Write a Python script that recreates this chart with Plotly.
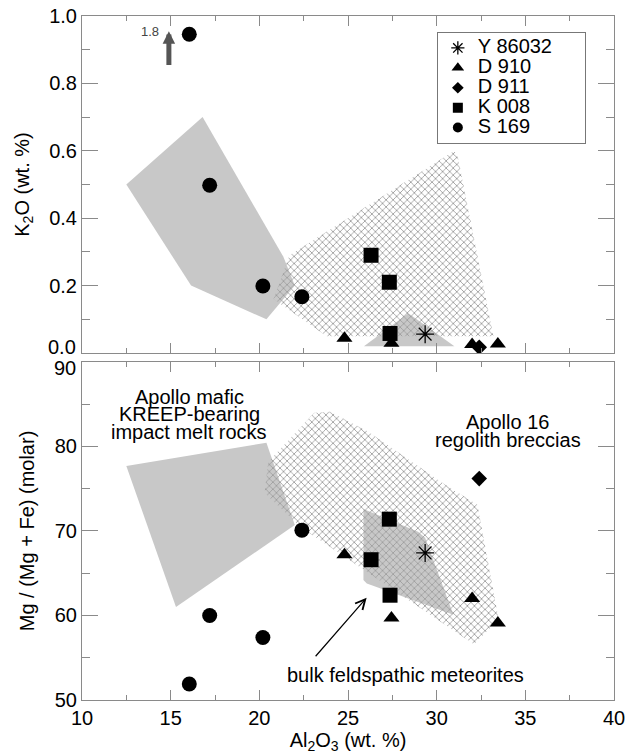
import plotly.graph_objects as go

# ---------------- data ----------------
# Y 86032 (asterisk)
y86032_al2o3 = [29.35]
y86032_k2o = [0.056]
y86032_mg = [67.4]

# D 910 (triangles)
d910_al2o3 = [24.8, 27.45, 32.0, 33.45]
d910_k2o = [0.044, 0.029, 0.025, 0.027]
d910_mg = [67.2, 59.7, 62.0, 59.1]

# D 911 (diamond)
d911_al2o3 = [32.4]
d911_k2o = [0.017]
d911_mg = [76.2]

# K 008 (squares)
k008_al2o3 = [26.3, 27.33, 27.37]
k008_k2o = [0.29, 0.21, 0.058]
k008_mg = [66.6, 71.4, 62.4]

# S 169 (circles); first K2O point is plotted off-scale (true value 1.8)
s169_al2o3 = [16.05, 17.2, 20.2, 22.4]
s169_k2o = [0.946, 0.498, 0.199, 0.167]
s169_mg = [51.9, 60.0, 57.4, 70.1]

# Reference fields, K2O vs Al2O3
kreep_k2o_x = [12.5, 16.8, 21.35, 22.0, 20.4, 16.15]
kreep_k2o_y = [0.50, 0.70, 0.286, 0.20, 0.10, 0.20]
regolith_k2o_x = [20.8, 21.7, 31.0, 31.2, 33.2, 23.8]
regolith_k2o_y = [0.16, 0.29, 0.60, 0.58, 0.05, 0.05]
feld_k2o_x = [25.9, 28.4, 31.0]
feld_k2o_y = [0.02, 0.118, 0.02]

# Reference fields, Mg# vs Al2O3
kreep_mg_x = [12.5, 20.4, 22.0, 15.3]
kreep_mg_y = [77.7, 80.45, 70.7, 61.0]
regolith_mg_x = [20.3, 20.5, 23.1, 24.0, 26.1, 30.4, 32.3, 33.5, 32.1, 22.3]
regolith_mg_y = [74.5, 78.2, 84.0, 84.1, 81.8, 75.6, 73.1, 59.5, 56.6, 70.5]
feld_mg_x = [25.87, 28.95, 29.35, 30.94, 26.06, 25.87]
feld_mg_y = [72.6, 69.9, 69.2, 60.1, 63.8, 64.2]

x_range = [10, 40]
k2o_range = [0, 1.0]
mg_range = [50, 90]
k2o_tickvals = [0.2, 0.4, 0.6, 0.8, 1.0]
mg_tickvals = [50, 60, 70, 80]

FONT = "Liberation Sans, Arial, Helvetica, sans-serif"
GRAY = "#c8c8c8"
AXC = "#8a8a8a"

fig = go.Figure()

def solid(xs, ys, xa, ya):
    fig.add_trace(go.Scatter(x=xs, y=ys, xaxis=xa, yaxis=ya, mode="lines",
                             fill="toself", fillcolor=GRAY, line=dict(width=0),
                             hoverinfo="skip", showlegend=False))

def hatch(xs, ys, xa, ya):
    fig.add_trace(go.Scatter(x=xs, y=ys, xaxis=xa, yaxis=ya, mode="lines",
                             fill="toself", fillcolor="rgba(0,0,0,0)",
                             fillpattern=dict(shape="x", fgcolor="#a0a0a0",
                                              bgcolor="rgba(0,0,0,0)", size=5,
                                              solidity=0.32, fillmode="replace"),
                             line=dict(width=0), hoverinfo="skip", showlegend=False))

solid(kreep_k2o_x, kreep_k2o_y, "x", "y")
solid(feld_k2o_x, feld_k2o_y, "x", "y")
hatch(regolith_k2o_x, regolith_k2o_y, "x", "y")
solid(kreep_mg_x, kreep_mg_y, "x2", "y2")
solid(feld_mg_x, feld_mg_y, "x2", "y2")
hatch(regolith_mg_x, regolith_mg_y, "x2", "y2")

series = [
    ("Y 86032", y86032_al2o3, y86032_k2o, y86032_mg, "asterisk-open", 15),
    ("D 910", d910_al2o3, d910_k2o, d910_mg, "triangle-up", 14),
    ("D 911", d911_al2o3, d911_k2o, d911_mg, "diamond", 12),
    ("K 008", k008_al2o3, k008_k2o, k008_mg, "square", 15),
    ("S 169", s169_al2o3, s169_k2o, s169_mg, "circle", 15),
]
legend_sizes = {"asterisk-open": 11, "triangle-up": 11, "diamond": 9,
                "square": 10, "circle": 10}

for name, al, k, mg, sym, sz in series:
    mk = dict(symbol=sym, size=sz, color="black",
              line=dict(width=1.3 if sym == "asterisk-open" else 0, color="black"))
    fig.add_trace(go.Scatter(x=al, y=k, xaxis="x", yaxis="y", mode="markers",
                             marker=mk, name=name, showlegend=False))
    fig.add_trace(go.Scatter(x=al, y=mg, xaxis="x2", yaxis="y2", mode="markers",
                             marker=mk, name=name, showlegend=False))
    lmk = dict(mk)
    lmk["size"] = legend_sizes[sym]
    fig.add_trace(go.Scatter(x=[None], y=[None], xaxis="x", yaxis="y", mode="markers",
                             marker=lmk,
                             name="<span style='font-size:20px'>" + name
                                  + "\u00a0" * 5 + "</span>",
                             showlegend=True))

common = dict(showline=True, linecolor=AXC, linewidth=1, mirror="allticks",
              ticks="inside", tickcolor=AXC, showgrid=False, zeroline=False,
              automargin=False, ticklabeloverflow="allow",
              tickfont=dict(family=FONT, size=20, color="black"))

fig.update_layout(
    width=628, height=756,
    margin=dict(l=82, r=14, t=16, b=56, autoexpand=False),
    paper_bgcolor="white", plot_bgcolor="white",
    font=dict(family=FONT, size=20, color="black"),
    showlegend=True,
    legend=dict(x=0.667, y=0.9766, xanchor="left", yanchor="top",
                bordercolor="#777", borderwidth=1, bgcolor="white",
                font=dict(family=FONT, size=13, color="black"),
                itemwidth=30, tracegroupgap=0),
    xaxis=dict(domain=[0, 1], anchor="y", range=x_range, tick0=10, dtick=5,
               ticklen=10, showticklabels=False,
               minor=dict(dtick=2.5, ticklen=5, tickcolor=AXC, ticks="inside"),
               **common),
    yaxis=dict(domain=[0.5073, 1.0], anchor="x", range=k2o_range,
               tickmode="array", tickvals=k2o_tickvals, tickformat=".1f",
               ticklen=16,
               minor=dict(tickmode="linear", tick0=0, dtick=0.1, ticklen=8,
                          tickcolor=AXC, ticks="inside"),
               title=dict(text="K<sub>2</sub>O (wt. %)", standoff=14,
                          font=dict(family=FONT, size=20)),
               **common),
    xaxis2=dict(domain=[0, 1], anchor="y2", range=x_range, tick0=10, dtick=5,
                ticklen=10,
                minor=dict(dtick=2.5, ticklen=5, tickcolor=AXC, ticks="inside"),
                title=dict(text="Al<sub>2</sub>O<sub>3</sub> (wt. %)", standoff=4,
                           font=dict(family=FONT, size=20)),
                **common),
    yaxis2=dict(domain=[0, 0.4942], anchor="x2", range=mg_range,
                tickmode="array", tickvals=mg_tickvals, ticklen=16,
                minor=dict(tickmode="linear", tick0=50, dtick=5, ticklen=8,
                           tickcolor=AXC, ticks="inside"),
                title=dict(text="Mg / (Mg + Fe) (molar)", standoff=14,
                           font=dict(family=FONT, size=20)),
                **common),
)

ann = []
# end labels nudged apart where the two panels meet
ann.append(dict(text="0.0", xref="x domain", yref="y", x=0, y=k2o_range[0],
                xanchor="right", yanchor="middle", xshift=-4, yshift=6,
                showarrow=False, font=dict(family=FONT, size=20)))
ann.append(dict(text="90", xref="x2 domain", yref="y2", x=0, y=mg_range[1],
                xanchor="right", yanchor="middle", xshift=-4, yshift=-6,
                showarrow=False, font=dict(family=FONT, size=20)))
# off-scale arrow
ann.append(dict(text="", xref="x", yref="y", axref="x", ayref="y",
                x=14.9, y=0.955, ax=14.9, ay=0.85, showarrow=True,
                arrowhead=2, arrowsize=0.5, arrowwidth=5, arrowcolor="#555"))
ann.append(dict(text="1.8", xref="x", yref="y", x=13.85, y=0.953, showarrow=False,
                font=dict(family=FONT, size=13, color="#444")))
# field labels
for txt, xx, yy in [("Apollo mafic", 16.05, 85.9), ("KREEP-bearing", 16.05, 83.8),
                    ("impact melt rocks", 16.05, 81.75),
                    ("Apollo 16", 34.0, 82.9), ("regolith breccias", 34.0, 80.8),
                    ("bulk feldspathic meteorites", 28.25, 53.0)]:
    ann.append(dict(text=txt, xref="x2", yref="y2", x=xx, y=yy, showarrow=False,
                    font=dict(family=FONT, size=20, color="black")))
# arrow to the feldspathic-meteorite field
ann.append(dict(text="", xref="x2", yref="y2", axref="x2", ayref="y2",
                x=26.05, y=62.1, ax=23.1, ay=55.0, showarrow=True,
                arrowhead=5, arrowsize=1.6, arrowwidth=1.2, arrowcolor="black"))
fig.update_layout(annotations=ann)

fig.write_html("out.html", config={"displayModeBar": False},
               post_script="document.body.style.margin='0px';")
